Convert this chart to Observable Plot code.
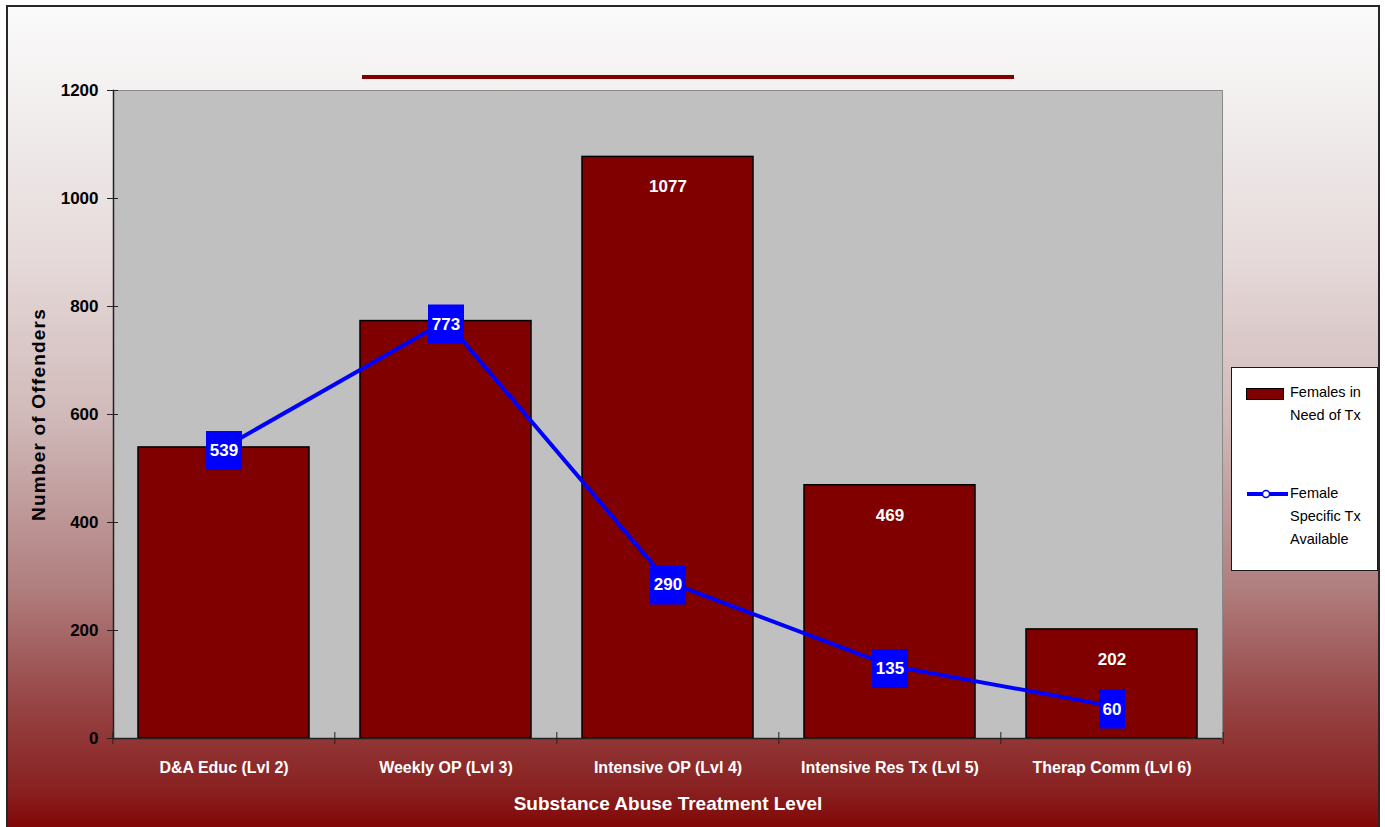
<!DOCTYPE html>
<html>
<head>
<meta charset="utf-8">
<script src="https://cdn.jsdelivr.net/npm/d3@7"></script>
<script src="https://cdn.jsdelivr.net/npm/@observablehq/plot@0.6"></script>
<style>
  html, body { margin: 0; padding: 0; background: #ffffff; }
  #wrap { position: relative; width: 1385px; height: 827px; overflow: hidden; font-family: "Liberation Sans", Arial, sans-serif; }
  #bg { position: absolute; left: 6px; top: 5px; width: 1370px; height: 830px;
        border-left: 2px solid #262626; border-top: 2px solid #262626; border-right: 2px solid #262626;
        background: linear-gradient(to bottom, #fbfafa 0%, #f3f0f0 10%, #e6dada 30%, #d0b8b8 50%, #b07e7e 70%, #964242 84.5%, #8a2222 94%, #800000 100%); }
  #chart { position: absolute; left: 0; top: 0; }
  #titleline { position: absolute; left: 362px; top: 75px; width: 652px; height: 4px; background: #800000; }
  #legend { position: absolute; left: 1231px; top: 367px; width: 145px; height: 202px; background: #ffffff; border: 1px solid #1a1a1a; }
  .lg-text { position: absolute; left: 58px; font-size: 14.5px; line-height: 23px; color: #000; }
  .swatch { position: absolute; left: 14px; top: 20px; width: 36px; height: 10px; background: #800000; border: 1px solid #000; }
</style>
</head>
<body>
<div id="wrap">
  <div id="bg"></div>
  <div id="titleline"></div>
  <div id="chart"></div>
  <div id="legend"></div>
</div>
<script>
// ---- data ----
const categories = ["D&A Educ (Lvl 2)", "Weekly OP (Lvl 3)", "Intensive OP (Lvl 4)", "Intensive Res Tx (Lvl 5)", "Therap Comm (Lvl 6)"];
const femalesInNeed = [539, 773, 1077, 469, 202];
const femaleSpecificAvailable = [539, 773, 290, 135, 60];
const yTicks = [0, 200, 400, 600, 800, 1000, 1200];
const seriesNames = ["Females in Need of Tx", "Female Specific Tx Available"];
const xLabel = "Substance Abuse Treatment Level";
const yLabel = "Number of Offenders";

// ---- build table ----
const rows = categories.map((c, i) => ({cat: c, need: femalesInNeed[i], avail: femaleSpecificAvailable[i]}));

const W = 1385, H = 827, mL = 113, mR = 163, mT = 90, mB = 89;
const pInner = 0.2306, pOuter = 0.1095;
const step = (W - mL - mR) / (categories.length - pInner + 2 * pOuter);
const font = "Liberation Sans, Arial, sans-serif";

// rectangular label box symbol (r = half width)
const boxSymbol = {
  draw(ctx, size) {
    const r = Math.sqrt(size / Math.PI);
    const h = 19.5;
    ctx.moveTo(-r, -h); ctx.lineTo(r, -h); ctx.lineTo(r, h); ctx.lineTo(-r, h); ctx.closePath();
  }
};

const chart = Plot.plot({
  width: W, height: H,
  marginLeft: mL, marginRight: mR, marginTop: mT, marginBottom: mB,
  style: {background: "transparent", fontFamily: font, overflow: "visible"},
  x: {type: "band", domain: categories, paddingInner: pInner, paddingOuter: pOuter, label: null, axis: null},
  y: {domain: [0, 1200], label: null, axis: null},
  r: {type: "identity"},
  marks: [
    Plot.frame({fill: "#c0c0c0", stroke: "#8a8a8a"}),
    Plot.barY(rows, {x: "cat", y: "need", fill: "#800000", stroke: "#000000", strokeWidth: 1.5}),
    Plot.text(rows.filter(d => d.need !== d.avail), {x: "cat", y: "need", text: d => String(d.need), dy: 30,
      fill: "#ffffff", fontWeight: "bold", fontSize: 17}),
    Plot.line(rows, {x: "cat", y: "avail", stroke: "#0000ff", strokeWidth: 4}),
    Plot.dot(rows, {x: "cat", y: "avail", r: d => String(d.avail).length * 5 + 3, symbol: boxSymbol,
      fill: "#0000ff", stroke: "none", dy: 3}),
    Plot.text(rows, {x: "cat", y: "avail", text: d => String(d.avail), dy: 3,
      fill: "#ffffff", fontWeight: "bold", fontSize: 17}),
    // axis lines
    Plot.ruleY([0], {stroke: "#222222", strokeWidth: 1.5}),
    Plot.frame({anchor: "left", stroke: "#222222", strokeWidth: 1.5}),
    // y ticks crossing the axis
    Plot.axisY(yTicks, {tickSize: 11, dx: 5, tickFormat: () => "", stroke: "#222222"}),
    Plot.axisY(yTicks, {tickSize: 0, tickPadding: 15, tickFormat: d => String(d), fontSize: 17, fontWeight: "bold", fill: "#000000", label: null}),
    // x ticks at category boundaries
    Plot.ruleX(categories, {x: d => d, y1: 0, y2: 0, insetTop: 6, insetBottom: 6, dx: -step / 2, stroke: "#222222"}),
    Plot.ruleX(categories.slice(-1), {x: d => d, y1: 0, y2: 0, insetTop: 6, insetBottom: 6, dx: step / 2, stroke: "#222222"}),
    Plot.axisX({tickSize: 0, tickPadding: 23, fontSize: 16, fontWeight: "bold", fill: "#ffffff", label: null}),
    // axis titles
    Plot.text([xLabel], {frameAnchor: "bottom", lineAnchor: "middle", dy: 65, fill: "#ffffff", fontWeight: "bold", fontSize: 19}),
    Plot.text([yLabel], {frameAnchor: "left", textAnchor: "middle", lineAnchor: "middle", dx: -75, rotate: -90, fill: "#000000", fontWeight: "bold", fontSize: 19})
  ]
});
d3.select(chart).selectAll("text").filter(function () { return this.textContent === yLabel; })
  .attr("letter-spacing", "1.2px");
document.getElementById("chart").appendChild(chart);

// ---- legend ----
const lg = document.getElementById("legend");
lg.innerHTML = `
  <div class="swatch"></div>
  <div class="lg-text" style="top:13px">${seriesNames[0].replace("in ", "in<br>")}</div>
  <svg style="position:absolute;left:14px;top:118px" width="44" height="16">
    <line x1="1" y1="8" x2="42" y2="8" stroke="#0000ff" stroke-width="4"/>
    <circle cx="20" cy="8" r="3.5" fill="#ffffff" stroke="#0000ff" stroke-width="1.5"/>
  </svg>
  <div class="lg-text" style="top:114px">${seriesNames[1].replace("Female ", "Female<br>").replace("Tx ", "Tx<br>")}</div>`;
</script>
</body>
</html>
